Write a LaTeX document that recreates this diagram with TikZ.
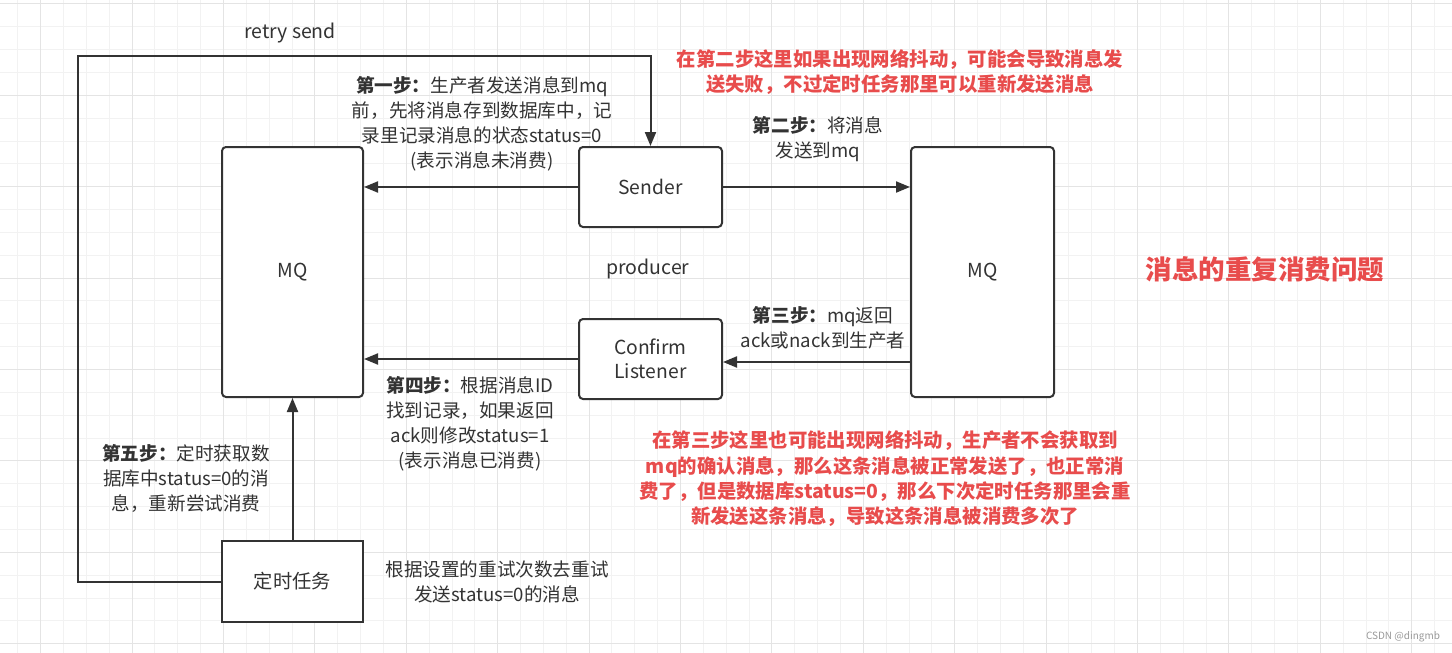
\documentclass[tikz,border=0pt]{standalone}
\usepackage{fontspec}
\setmainfont{Noto Sans CJK SC}
\usetikzlibrary{arrows.meta}
\definecolor{ln}{HTML}{333333}
\definecolor{rd}{HTML}{E84C4C}
\definecolor{gminor}{HTML}{F2F2F2}
\definecolor{gmajor}{HTML}{E4E4E4}
\definecolor{wm}{HTML}{999999}
\tikzset{
  box/.style={draw=ln, line width=2pt, rounded corners=4pt, fill=white, text=ln,
    font=\fontsize{19.3}{24.5}\selectfont, align=center, inner sep=0pt},
  sqbox/.style={box, sharp corners},
  arr/.style={draw=ln, line width=2pt, -{Triangle[length=14pt,width=11pt]}},
  note/.style={text=ln, font=\fontsize{18.6}{25}\selectfont, align=center, inner sep=0pt},
  rednote/.style={text=rd, font=\fontsize{19.4}{25.3}\selectfont\bfseries, align=center, inner sep=0pt},
}
\begin{document}
\begin{tikzpicture}[x=1pt,y=-1pt]
\fill[white] (0,0) rectangle (1452,653);
\useasboundingbox (0,0) rectangle (1452,653);
% grid
\foreach \i in {-2,...,62} {
  \draw[gminor, line width=1pt] ({40.7+\i*22.85},0) -- ++(0,653);
}
\foreach \i in {-5,...,25} {
  \draw[gminor, line width=1pt] (0,{95.3+\i*22.85}) -- ++(1452,0);
}
\foreach \i in {-1,...,15} {
  \draw[gmajor, line width=1pt] ({40.7+\i*91.4},0) -- ++(0,653);
}
\foreach \i in {-2,...,6} {
  \draw[gmajor, line width=1pt] (0,{95.3+\i*91.4}) -- ++(1452,0);
}

% boxes
\node[box, minimum width=141pt, minimum height=250pt] (mqL) at (292.5,272) {MQ};
\node[box, minimum width=143pt, minimum height=80pt] (sender) at (650.5,187) {Sender};
\node[box, minimum width=143pt, minimum height=80pt] (confirm) at (650.5,359) {Confirm\\Listener};
\node[box, minimum width=143pt, minimum height=250pt] (mqR) at (982.5,272) {MQ};
\node[sqbox, minimum width=141pt, minimum height=81pt] (timer) at (292.5,581.5) {定时任务};

% connectors
\coordinate (loop) at (78,56);
\draw[arr] (timer.west) -| (loop) -| (sender.north);
\draw[arr] (sender.west) -- (mqL.east |- sender.west);
\draw[arr] (sender.east) -- (mqR.west |- sender.east);
\draw[arr] ([yshift=-3pt]mqR.west |- confirm.east) -- ([yshift=-3pt]confirm.east);
\draw[arr] (confirm.west) -- (mqL.east |- confirm.west);
\draw[arr] (timer.north) -- (mqL.south);

% texts
\node[note, font=\fontsize{19.5}{22}\selectfont] (retry) at (290,33) {retry send};
\node[note] (s1) at (482,124) {\textbf{第一步：}生产者发送消息到mq\\前，先将消息存到数据库中，记\\录里记录消息的状态status=0\\(表示消息未消费)};
\node[note] (s2) at (818,139.5) {\textbf{第二步：}将消息\\发送到mq};
\node[rednote] (r1) at (900,72) {在第二步这里如果出现网络抖动，可能会导致消息发\\送失败，不过定时任务那里可以重新发送消息};
\node[note, font=\fontsize{19.5}{22}\selectfont] (prod) at (648,269) {producer};
\node[note] (s3) at (823,327.5) {\textbf{第三步：}mq返回\\ack或nack到生产者};
\node[note] (s4) at (470,423.5) {\textbf{第四步：}根据消息ID\\找到记录，如果返回\\ack则修改status=1\\(表示消息已消费)};
\node[rednote] (r2) at (885,479) {在第三步这里也可能出现网络抖动，生产者不会获取到\\mq的确认消息，那么这条消息被正常发送了，也正常消\\费了，但是数据库status=0，那么下次定时任务那里会重\\新发送这条消息，导致这条消息被消费多次了};
\node[note] (s5) at (186,478) {\textbf{第五步：}定时获取数\\据库中status=0的消\\息，重新尝试消费};
\node[note] (s6) at (497,582) {根据设置的重试次数去重试\\发送status=0的消息};
\node[text=rd, font=\fontsize{26.5}{30}\selectfont\bfseries, inner sep=0pt] (title) at (1265,269) {消息的重复消费问题};
\node[text=wm, font=\fontsize{10}{12}\selectfont, inner sep=0pt] (wmk) at (1403,637) {CSDN @dingmb};
\end{tikzpicture}
\end{document}
